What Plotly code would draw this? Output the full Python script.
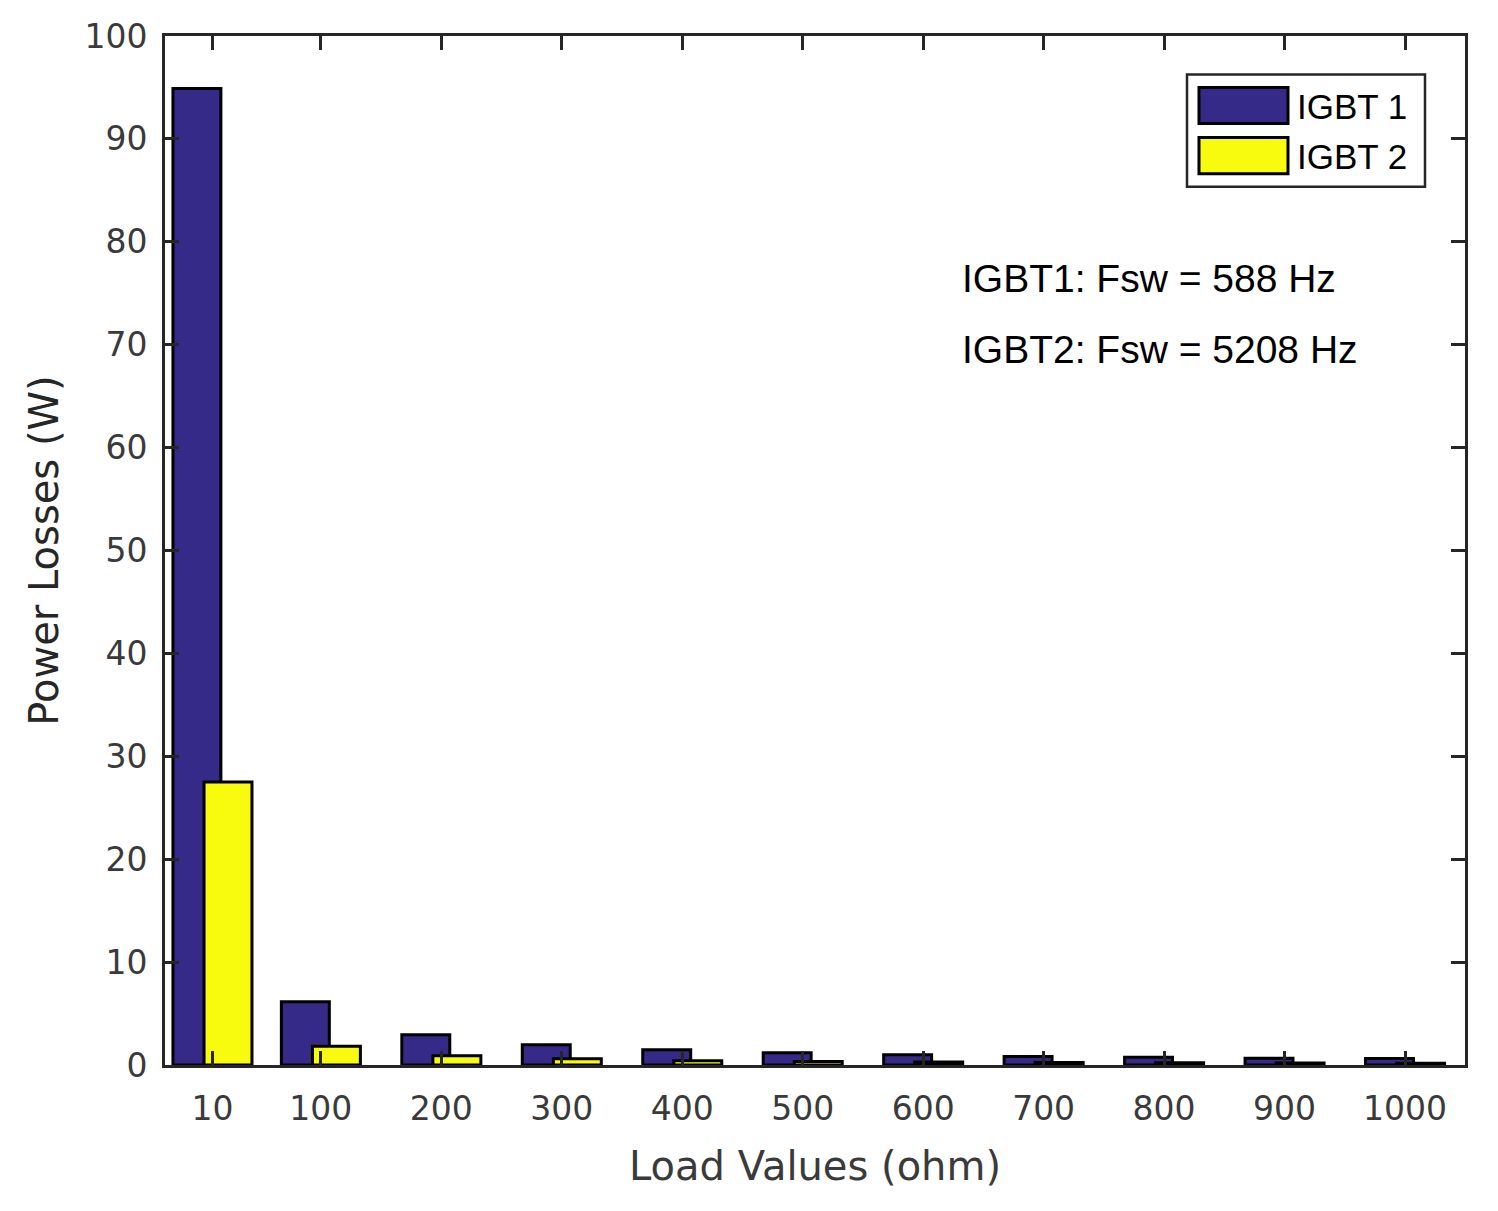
import plotly.graph_objects as go

loads = [10, 100, 200, 300, 400, 500, 600, 700, 800, 900, 1000]
igbt1 = [94.9, 6.15, 2.94, 1.96, 1.48, 1.19, 0.99, 0.83, 0.76, 0.66, 0.64]
igbt2 = [27.5, 1.83, 0.90, 0.60, 0.41, 0.34, 0.30, 0.24, 0.22, 0.20, 0.18]
x_ticks = loads
x_tick_labels = [str(v) for v in loads]
y_ticks = list(range(0, 101, 10))

BLUE = "#352A87"
YELLOW = "#F9FB0E"
AX = "#262626"
TXT = "#3a3a3a"
FONT = "Liberation Sans, Arial, sans-serif"
WIDE = "DejaVu Sans, Liberation Sans, sans-serif"

bar_w = 39.8
shift = 12.9

fig = go.Figure()
fig.add_trace(go.Bar(x=loads, y=igbt1, name="IGBT 1", width=bar_w,
                     offset=-shift - bar_w / 2,
                     marker=dict(color=BLUE, line=dict(color="black", width=3)),
                     showlegend=False))
fig.add_trace(go.Bar(x=loads, y=igbt2, name="IGBT 2", width=bar_w,
                     offset=shift - bar_w / 2,
                     marker=dict(color=YELLOW, line=dict(color="black", width=3)),
                     showlegend=False))

axis_common = dict(showline=True, linecolor=AX, linewidth=3, mirror="ticks",
                   ticks="inside", ticklen=14, tickwidth=2.5, tickcolor=AX,
                   showgrid=False, zeroline=False,
                   tickfont=dict(family=WIDE, size=33, color=TXT))

fig.update_layout(
    width=1498, height=1211,
    margin=dict(l=165, r=33, t=36, b=146),
    plot_bgcolor="white", paper_bgcolor="white",
    barmode="overlay",
    xaxis=dict(range=[-29.4, 1049.8], tickvals=x_ticks, ticktext=x_tick_labels,
               ticklabelstandoff=12,
               title=dict(text="Load Values (ohm)", font=dict(family=WIDE, size=40, color=TXT),
                          standoff=26),
               **axis_common),
    yaxis=dict(range=[0, 100], tickvals=y_ticks, ticklabelstandoff=8,
               title=dict(text="Power Losses (W)", font=dict(family=WIDE, size=40, color="#262626"),
                          standoff=14),
               **axis_common),
)

# custom legend box (top right) to mimic the large swatches
def px_x(p):
    return (p - 165) / (1465 - 165)

def px_y(p):
    return (1064.5 - p) / (1064.5 - 36.5)

fig.add_shape(type="rect", xref="paper", yref="paper",
              x0=px_x(1187), x1=px_x(1425), y0=px_y(187), y1=px_y(75),
              line=dict(color=AX, width=2.5), fillcolor="white", layer="above")
fig.add_shape(type="rect", xref="paper", yref="paper",
              x0=px_x(1199), x1=px_x(1288), y0=px_y(124), y1=px_y(88),
              line=dict(color="black", width=3), fillcolor=BLUE, layer="above")
fig.add_shape(type="rect", xref="paper", yref="paper",
              x0=px_x(1199), x1=px_x(1288), y0=px_y(174), y1=px_y(138),
              line=dict(color="black", width=3), fillcolor=YELLOW, layer="above")
fig.add_annotation(xref="paper", yref="paper", x=px_x(1295), y=px_y(107),
                   text="IGBT 1", showarrow=False, xanchor="left", yanchor="middle",
                   font=dict(family=FONT, size=35, color="black"))
fig.add_annotation(xref="paper", yref="paper", x=px_x(1295), y=px_y(157),
                   text="IGBT 2", showarrow=False, xanchor="left", yanchor="middle",
                   font=dict(family=FONT, size=35, color="black"))

fig.add_annotation(xref="paper", yref="paper", x=px_x(960), y=px_y(279),
                   text="IGBT1: Fsw = 588 Hz", showarrow=False, xanchor="left", yanchor="middle",
                   font=dict(family=FONT, size=39, color="black"))
fig.add_annotation(xref="paper", yref="paper", x=px_x(960), y=px_y(350),
                   text="IGBT2: Fsw = 5208 Hz", showarrow=False, xanchor="left", yanchor="middle",
                   font=dict(family=FONT, size=39, color="black"))

fig.write_html("out.html")
